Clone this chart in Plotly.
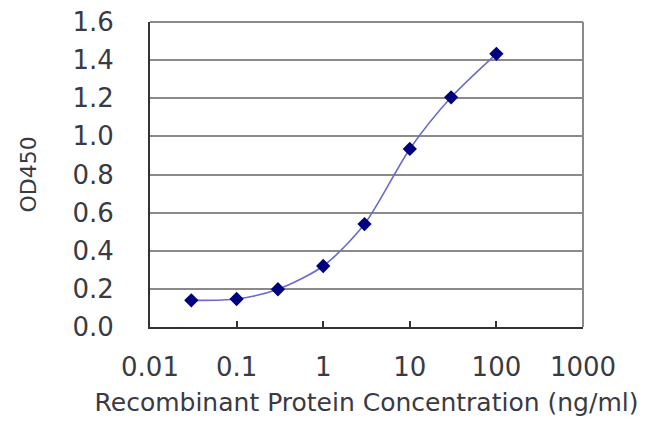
"""
Curva ELISA: OD450 frente a concentración de proteína recombinante (escala log).
"""
import plotly.graph_objects as go

# datos
concentracion = [0.03, 0.1, 0.3, 1, 3, 10, 30, 100]
od450 = [0.14, 0.147, 0.198, 0.32, 0.54, 0.934, 1.205, 1.433]

x_ticks = [0.01, 0.1, 1, 10, 100, 1000]
x_tick_text = ["0.01", "0.1", "1", "10", "100", "1000"]
y_ticks = [0.0, 0.2, 0.4, 0.6, 0.8, 1.0, 1.2, 1.4, 1.6]

FUENTE = "DejaVu Sans"
GRIS_TEXTO = "#3a3a44"
GRIS_REJILLA = "#8a8a8a"

fig = go.Figure()
fig.add_trace(go.Scatter(
    x=concentracion,
    y=od450,
    mode="lines+markers",
    line=dict(color="#6b6bcc", width=1.6, shape="spline", smoothing=0.8),
    marker=dict(symbol="diamond", size=11, color="#00007f"),
    showlegend=False,
))

fig.update_xaxes(
    type="log",
    range=[-2, 3],
    tickvals=x_ticks,
    ticktext=x_tick_text,
    ticks="inside",
    ticklen=6,
    tickwidth=2,
    tickcolor="#333333",
    ticklabelstandoff=16,
    automargin=False,
    showgrid=False,
    zeroline=False,
    showline=True,
    linecolor="#333333",
    linewidth=2,
    tickfont=dict(family=FUENTE, size=26, color=GRIS_TEXTO),
    title=dict(text="Recombinant Protein Concentration (ng/ml)",
               font=dict(family=FUENTE, size=25, color=GRIS_TEXTO),
               standoff=12),
)
fig.update_yaxes(
    range=[0, 1.6],
    tickvals=y_ticks,
    tickformat=".1f",
    ticks="",
    ticklabelstandoff=29,
    ticklabeloverflow="allow",
    automargin=False,
    showgrid=True,
    gridcolor=GRIS_REJILLA,
    gridwidth=2,
    zeroline=False,
    showline=True,
    linecolor="#333333",
    linewidth=2,
    tickfont=dict(family=FUENTE, size=26, color=GRIS_TEXTO),
    title=dict(text="OD450", font=dict(family=FUENTE, size=22, color=GRIS_TEXTO),
               standoff=30),
)

# borde superior y derecho gris claro
fig.add_shape(type="line", xref="paper", yref="paper", x0=1, x1=1, y0=0, y1=1,
              line=dict(color=GRIS_REJILLA, width=2))
fig.add_shape(type="line", xref="paper", yref="paper", x0=0, x1=1, y0=1, y1=1,
              line=dict(color=GRIS_REJILLA, width=2))

# la página añade 8 px de margen al body: el gráfico mide 642x425
fig.update_layout(
    width=642,
    height=425,
    paper_bgcolor="white",
    plot_bgcolor="white",
    margin=dict(l=142, r=67, t=14, b=106),
)

fig.write_html("out.html")
